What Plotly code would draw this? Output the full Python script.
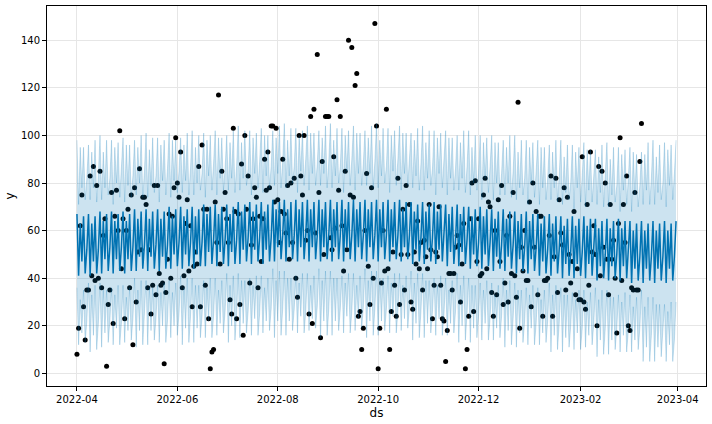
import pandas as pd
import plotly.graph_objs as go

# observed daily values (black dots), starting 2022-04-01
start_day = "2022-04-01"
obs_y = [
    8, 19, 62, 75, 28, 14, 35, 35, 83,
    41, 87, 39, 79, 40, 85, 36, 58, 65, 3,
    29, 35, 76, 21, 66, 77, 60, 102, 44, 65,
    23, 60, 69, 36, 75, 12, 78, 30, 51, 86,
    52, 74, 74, 71, 36, 52, 25, 37, 79, 33,
    79, 42, 37, 38, 4, 34, 48, 67, 40, 66,
    78, 99, 80, 74, 93, 36, 41, 63, 73, 43,
    62, 28, 45, 51, 46, 87, 28, 96, 69, 37,
    69, 23, 2, 9, 10, 72, 55, 117, 46, 85,
    69, 76, 65, 55, 31, 25, 103, 68, 23, 67,
    29, 88, 16, 100, 69, 83, 38, 54, 65, 78,
    74, 36, 66, 47, 65, 90, 77, 93, 78, 104,
    104, 72, 103, 73, 55, 68, 90, 67, 59, 79,
    48, 80, 55, 82, 40, 32, 100, 83, 75, 100,
    56, 60, 25, 108, 21, 111, 59, 134, 76, 15,
    89, 50, 108, 108, 108, 57, 52,
    91, 61, 115, 77, 108, 62, 43, 85, 52, 140,
    75, 137, 74, 121, 126, 24, 26, 10, 19, 60,
    84, 45, 29, 78, 40, 147, 104, 2, 19, 38,
    60, 43, 111, 44, 10, 26, 51, 37, 24, 82,
    29, 50, 69, 35, 79, 50, 71, 30, 27, 51,
    46, 64, 44, 55, 35, 56, 49, 44, 71, 52,
    23, 37, 51, 49, 70, 37, 23, 22, 5, 18,
    42, 42, 35, 42, 53, 58, 54, 30, 46, 63,
    2, 10, 24, 65, 80, 26, 81, 47, 65, 41,
    42, 75, 82, 44, 72, 70, 34, 24, 60, 33,
    73, 47, 79, 29, 38, 58, 30, 66, 42, 76,
    41, 32, 114, 19, 53, 43, 60, 39, 39, 72,
    28, 80, 53, 68, 33, 66, 66, 24, 39, 39,
    40, 58, 83, 24, 49, 82, 34, 73, 59, 54,
    78, 35, 74, 50, 38, 47, 68, 33, 44, 31,
    31, 91, 30, 27, 71, 37, 93, 51, 62, 50,
    20, 87, 41, 85, 53, 80, 48, 33, 71, 48,
    56, 40, 17, 63, 99, 39, 71, 55, 83, 20,
    18, 36, 35, 76, 35, 35, 89, 105,
]

# forecast (one value per day, 2022-04-01 .. 2023-03-31), a week per row
end_day = "2023-03-31"
yhat = [
    67, 41, 63, 47, 66, 42, 52,
    67, 41, 63, 47, 66, 42, 52,
    68, 42, 64, 48, 67, 43, 53,
    68, 42, 64, 48, 67, 43, 53,
    68, 42, 64, 48, 67, 43, 53,
    69, 43, 65, 49, 68, 44, 54,
    69, 43, 65, 49, 68, 44, 54,
    69, 43, 65, 49, 68, 44, 54,
    70, 44, 66, 50, 69, 45, 55,
    70, 44, 66, 50, 69, 45, 55,
    70, 44, 66, 50, 69, 45, 55,
    71, 45, 67, 51, 70, 46, 56,
    71, 45, 67, 51, 70, 46, 56,
    71, 45, 67, 51, 70, 46, 56,
    72, 46, 68, 52, 71, 47, 57,
    72, 46, 68, 52, 71, 47, 57,
    72, 46, 68, 52, 71, 47, 57,
    73, 47, 69, 53, 72, 48, 58,
    73, 47, 69, 53, 72, 48, 58,
    73, 47, 69, 53, 72, 48, 58,
    73, 47, 69, 53, 72, 48, 58,
    73, 47, 69, 53, 72, 48, 58,
    73, 47, 69, 53, 72, 48, 58,
    73, 47, 69, 53, 72, 48, 58,
    73, 47, 69, 53, 72, 48, 58,
    73, 47, 69, 53, 72, 48, 58,
    73, 47, 69, 53, 72, 48, 58,
    73, 47, 69, 53, 72, 48, 58,
    73, 47, 69, 53, 72, 48, 58,
    72, 46, 68, 52, 71, 47, 57,
    72, 46, 68, 52, 71, 47, 57,
    72, 46, 68, 52, 71, 47, 57,
    71, 45, 67, 51, 70, 46, 56,
    71, 45, 67, 51, 70, 46, 56,
    70, 44, 66, 50, 69, 45, 55,
    70, 44, 66, 50, 69, 45, 55,
    69, 43, 65, 49, 68, 44, 54,
    69, 43, 65, 49, 68, 44, 54,
    68, 42, 64, 48, 67, 43, 53,
    68, 42, 64, 48, 67, 43, 53,
    67, 41, 63, 47, 66, 42, 52,
    67, 41, 63, 47, 66, 42, 52,
    66, 40, 62, 46, 65, 41, 51,
    66, 40, 62, 46, 65, 41, 51,
    66, 40, 62, 46, 65, 41, 51,
    65, 39, 61, 45, 64, 40, 50,
    65, 39, 61, 45, 64, 40, 50,
    65, 39, 61, 45, 64, 40, 50,
    64, 38, 60, 44, 63, 39, 49,
    64, 38, 60, 44, 63, 39, 49,
    64, 38, 60, 44, 63, 39, 49,
    64, 38, 60, 44, 63, 39, 49,
    64,
]

yhat_upper = [
    98, 71, 95, 78, 95, 73, 82,
    96, 73, 93, 78, 98, 72, 83,
    100, 73, 93, 78, 98, 75, 82,
    98, 71, 95, 80, 97, 74, 85,
    99, 72, 96, 79, 96, 74, 83,
    98, 75, 95, 80, 100, 74, 85,
    101, 74, 94, 79, 99, 76, 83,
    99, 72, 96, 81, 98, 75, 86,
    101, 74, 98, 81, 98, 76, 85,
    99, 76, 96, 81, 101, 75, 86,
    102, 75, 95, 80, 100, 77, 84,
    101, 74, 98, 83, 100, 77, 88,
    102, 75, 99, 82, 99, 77, 86,
    100, 77, 97, 82, 102, 76, 87,
    104, 77, 97, 82, 102, 79, 86,
    102, 75, 99, 84, 101, 78, 89,
    103, 76, 100, 83, 100, 78, 87,
    102, 79, 99, 84, 104, 78, 89,
    105, 78, 98, 83, 103, 80, 87,
    103, 76, 100, 85, 102, 79, 90,
    104, 77, 101, 84, 101, 79, 88,
    102, 79, 99, 84, 104, 78, 89,
    105, 78, 98, 83, 103, 80, 87,
    103, 76, 100, 85, 102, 79, 90,
    104, 77, 101, 84, 101, 79, 88,
    102, 79, 99, 84, 104, 78, 89,
    105, 78, 98, 83, 103, 80, 87,
    103, 76, 100, 85, 102, 79, 90,
    104, 77, 101, 84, 101, 79, 88,
    101, 78, 98, 83, 103, 77, 88,
    104, 77, 97, 82, 102, 79, 86,
    102, 75, 99, 84, 101, 78, 89,
    102, 75, 99, 82, 99, 77, 86,
    100, 77, 97, 82, 102, 76, 87,
    102, 75, 95, 80, 100, 77, 84,
    100, 73, 97, 82, 99, 76, 87,
    100, 73, 97, 80, 97, 75, 84,
    98, 75, 95, 80, 100, 74, 85,
    100, 73, 93, 78, 98, 75, 82,
    98, 71, 95, 80, 97, 74, 85,
    98, 71, 95, 78, 95, 73, 82,
    96, 73, 93, 78, 98, 72, 83,
    98, 71, 91, 76, 96, 73, 80,
    96, 69, 93, 78, 95, 72, 83,
    97, 70, 94, 77, 94, 72, 81,
    94, 71, 91, 76, 96, 70, 81,
    97, 70, 90, 75, 95, 72, 79,
    95, 68, 92, 77, 94, 71, 82,
    95, 68, 93, 75, 92, 70, 79,
    93, 71, 92, 77, 97, 71, 82,
    98, 71, 91, 76, 96, 73, 80,
    97, 70, 94, 79, 96, 73, 84,
    98,
]

yhat_lower = [
    36, 12, 31, 17, 35, 13, 22,
    38, 9, 33, 16, 37, 10, 21,
    38, 11, 35, 17, 35, 13, 22,
    36, 12, 33, 19, 37, 12, 21,
    37, 13, 32, 18, 36, 14, 23,
    40, 11, 35, 18, 39, 12, 23,
    39, 12, 36, 18, 36, 14, 23,
    37, 13, 34, 20, 38, 13, 22,
    39, 15, 34, 20, 38, 16, 25,
    41, 12, 36, 19, 40, 13, 24,
    40, 13, 37, 19, 37, 15, 24,
    39, 15, 36, 22, 40, 15, 24,
    40, 16, 35, 21, 39, 17, 26,
    42, 13, 37, 20, 41, 14, 25,
    42, 15, 39, 21, 39, 17, 26,
    40, 16, 37, 23, 41, 16, 25,
    41, 17, 36, 22, 40, 18, 27,
    44, 15, 39, 22, 43, 16, 27,
    43, 16, 40, 22, 40, 18, 27,
    41, 17, 38, 24, 42, 17, 26,
    42, 18, 37, 23, 41, 19, 28,
    44, 15, 39, 22, 43, 16, 27,
    43, 16, 40, 22, 40, 18, 27,
    41, 17, 38, 24, 42, 17, 26,
    42, 18, 37, 23, 41, 19, 28,
    44, 15, 39, 22, 43, 16, 27,
    43, 16, 40, 22, 40, 18, 27,
    41, 17, 38, 24, 42, 17, 26,
    42, 18, 37, 23, 41, 19, 28,
    43, 14, 38, 21, 42, 15, 26,
    42, 15, 39, 21, 39, 17, 26,
    40, 16, 37, 23, 41, 16, 25,
    40, 16, 35, 21, 39, 17, 26,
    42, 13, 37, 20, 41, 14, 25,
    40, 13, 37, 19, 37, 15, 24,
    38, 14, 35, 21, 39, 14, 23,
    38, 14, 33, 19, 37, 15, 24,
    40, 11, 35, 18, 39, 12, 23,
    38, 11, 35, 17, 35, 13, 22,
    36, 12, 33, 19, 37, 12, 21,
    36, 12, 31, 17, 35, 13, 22,
    38, 9, 33, 16, 37, 10, 21,
    36, 9, 33, 15, 33, 11, 20,
    34, 10, 31, 17, 35, 10, 19,
    35, 11, 30, 16, 34, 12, 21,
    36, 7, 31, 14, 35, 8, 19,
    35, 8, 32, 14, 32, 10, 19,
    33, 9, 30, 16, 34, 9, 18,
    33, 9, 28, 14, 32, 10, 19,
    35, 5, 28, 11, 32, 5, 16,
    32, 5, 29, 11, 29, 7, 16,
    29, 5, 26, 12, 30, 5, 14,
    30,
]

obs_ds = pd.date_range(start_day, periods=len(obs_y), freq="D")
fcst_ds = pd.date_range(start_day, end_day, freq="D")

blue = "#0072B2"
band = "rgba(0,114,178,0.2)"

fig = go.Figure()
fig.add_trace(go.Scatter(x=obs_ds, y=obs_y, mode="markers",
                         marker=dict(color="black", size=5), showlegend=False))
fig.add_trace(go.Scatter(x=fcst_ds, y=yhat, mode="lines",
                         line=dict(color=blue, width=1.5), showlegend=False))
fig.add_trace(go.Scatter(x=fcst_ds, y=yhat_lower, mode="lines",
                         line=dict(color=band, width=1), showlegend=False))
fig.add_trace(go.Scatter(x=fcst_ds, y=yhat_upper, mode="lines", fill="tonexty",
                         fillcolor=band, line=dict(color=band, width=1),
                         showlegend=False))

axis_style = dict(showline=True, linecolor="black", linewidth=1, mirror=True,
                  ticks="outside", ticklen=4, tickcolor="black",
                  showgrid=True, gridcolor="#e6e6e6", gridwidth=1,
                  zeroline=False, automargin=False,
                  tickfont=dict(size=10, color="black"))

fig.update_xaxes(title_text="ds", range=["2022-03-13 19:12", "2023-04-18 04:48"],
                 tick0="2022-04-01", dtick="M2", tickformat="%Y-%m",
                 title_standoff=4, **axis_style)
fig.update_yaxes(title_text="y", range=[-5.3, 154.4], dtick=20,
                 title_standoff=3, **axis_style)

fig.update_layout(width=712, height=424, template="simple_white",
                  margin=dict(l=47, r=6, t=6, b=38),
                  plot_bgcolor="white", paper_bgcolor="white",
                  font=dict(family="DejaVu Sans", size=10, color="black"))

# drop the browser's default page margin so the figure sits at the window corner
fig.write_html("out.html", config={"displayModeBar": False},
               post_script="document.body.style.margin = '0';")
